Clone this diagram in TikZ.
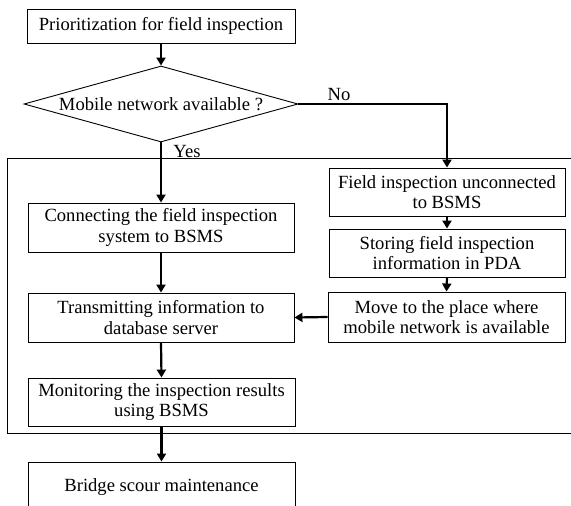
\documentclass[tikz,border=0pt]{standalone}
\usepackage{fontspec}
\setmainfont{Liberation Serif}
\usetikzlibrary{arrows.meta,shapes.geometric}
\begin{document}
\begin{tikzpicture}[x=1pt,y=-1pt,
  txt/.style={font=\fontsize{18.6}{20.5}\selectfont},
  box/.style={txt,draw,line width=0.9pt,rectangle,inner sep=0pt,align=center},
  lbl/.style={txt,inner sep=0pt},
  arr/.style={line width=2.2pt,-{Triangle[length=8pt,width=9pt]}}]
\useasboundingbox (0,0) rectangle (571,506);
\clip (0,0) rectangle (571,506);
% frame
\coordinate (fa) at (7.5,158);
\coordinate (fb) at (640,433);
\draw[line width=1pt] (fa) rectangle (fb);
% nodes
\node[box,minimum width=268pt,minimum height=34pt] (top) at (161,26) {Prioritization for field inspection};
\node[txt,draw,diamond,aspect=3.6,minimum width=274pt,minimum height=76pt,inner sep=0pt,line width=0.9pt] (dia) at (161,104) {Mobile network available ?};
\node[box,minimum width=266pt,minimum height=49pt] (conn) at (161,227.5) {Connecting the field inspection\\system to BSMS};
\node[box,minimum width=266pt,minimum height=49pt] (trans) at (161,317.5) {Transmitting information to\\database server};
\node[box,minimum width=267pt,minimum height=48pt] (mon) at (161.5,402) {Monitoring the inspection results\\using BSMS};
\node[box,minimum width=267pt,minimum height=50pt] (bridge) at (161.5,487) {Bridge scour maintenance};
\node[box,minimum width=236pt,minimum height=48pt] (field) at (447,192) {Field inspection unconnected\\to BSMS};
\node[box,minimum width=236pt,minimum height=48pt] (store) at (447,253) {Storing field inspection\\information in PDA};
\node[box,minimum width=237pt,minimum height=50pt] (move) at (446.5,317) {Move to the place where\\mobile network is available};
\node[lbl] (no) at (339,95) {No};
\node[lbl] (yes) at (187,152) {Yes};
% connectors
\draw[arr] (top.south) -- (dia.north);
\draw[arr] (dia.south) -- (conn.north);
\draw[arr] (dia.east) -| (field.north);
\draw[arr] (conn.south) -- (trans.north);
\draw[arr] (trans.south) -- (mon.north);
\draw[arr] (mon.south) -- (bridge.north);
\draw[arr] (field.south) -- (store.north);
\draw[arr] (store.south) -- (move.north);
\draw[arr] (move.west) -- (trans.east);
\end{tikzpicture}
\end{document}
